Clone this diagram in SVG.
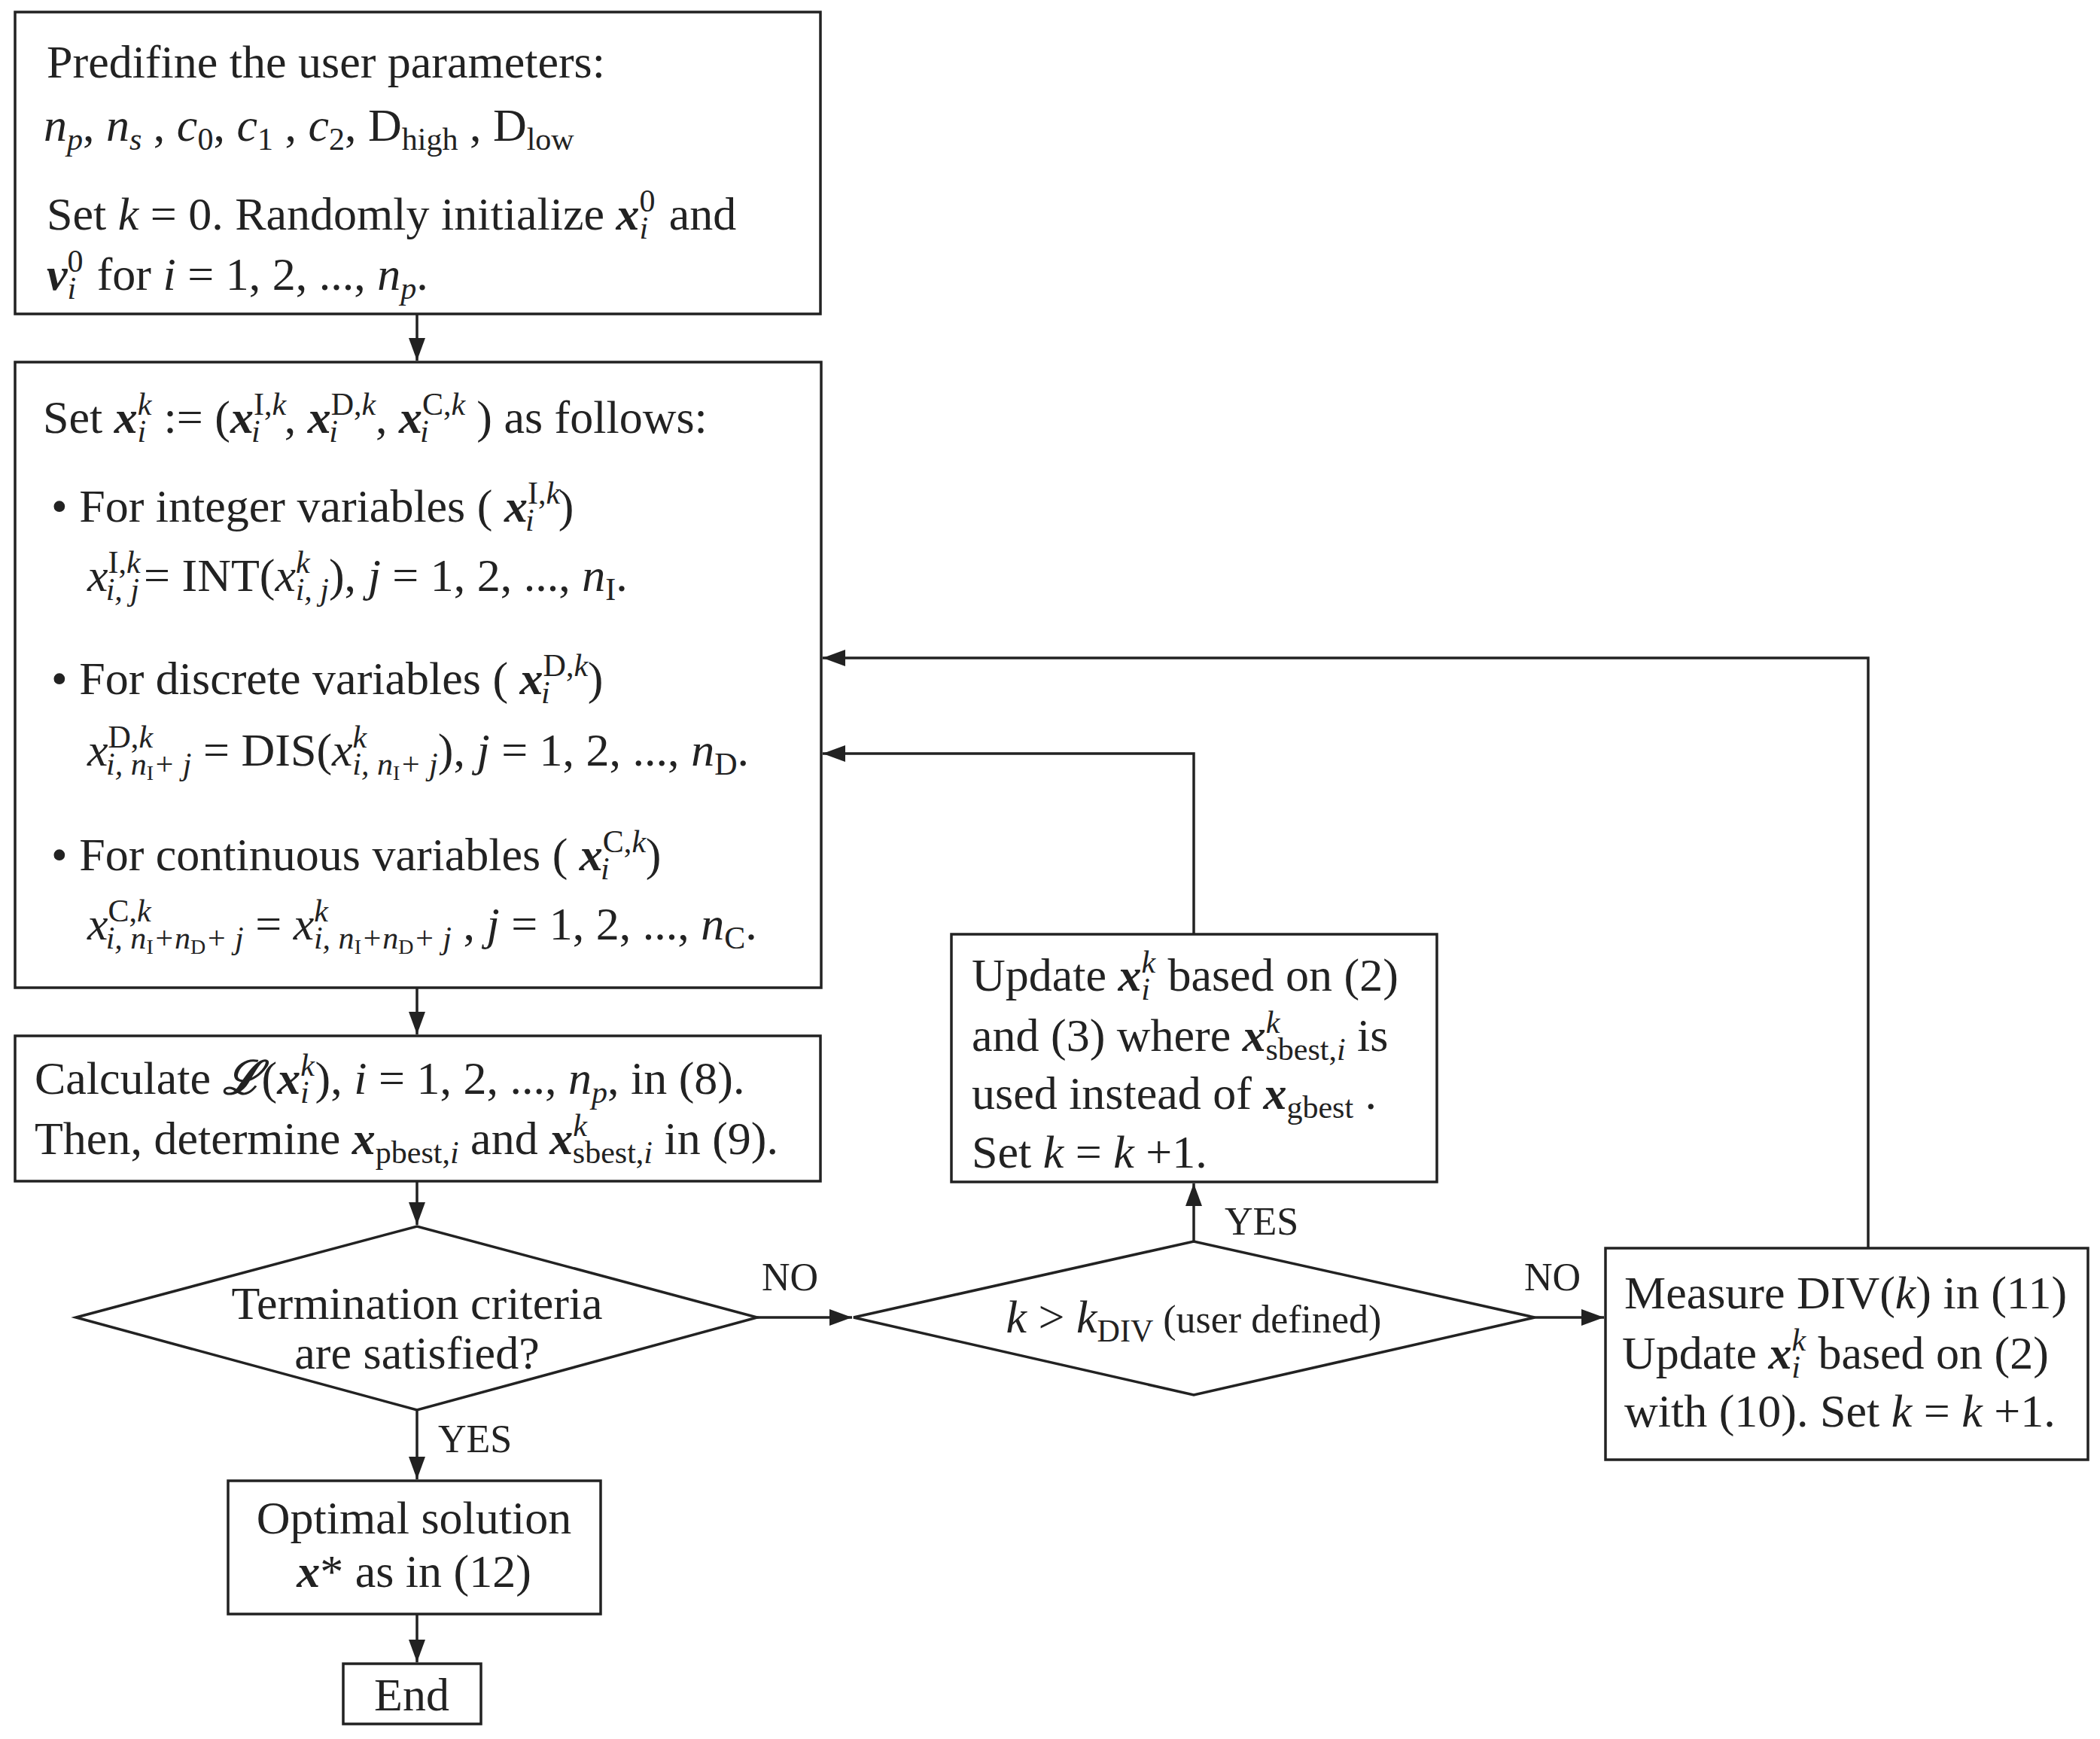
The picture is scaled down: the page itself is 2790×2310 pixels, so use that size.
<svg xmlns="http://www.w3.org/2000/svg" width="2790" height="2310" viewBox="0 0 2790 2310">
<style>
text{font-family:"Liberation Serif","Times New Roman",serif;font-size:62px;fill:#222}
.box{fill:#fff;stroke:#222;stroke-width:3.5}
.c{fill:none;stroke:#222;stroke-width:3.5}
.i{font-style:italic}
.bi{font-style:italic;font-weight:bold}
.s{font-size:42px}
.t{font-size:28px;font-style:normal}
.lbl{font-size:52px}
</style>
<defs>
<marker id="a" markerUnits="userSpaceOnUse" markerWidth="32" markerHeight="24" refX="30" refY="11" orient="auto"><path d="M0,0 L30,11 L0,22 z" fill="#222"/></marker>
</defs>
<rect width="2790" height="2310" fill="#fff"/>
<g id="connectors">
<path class="c" d="M554 417 V479" marker-end="url(#a)"/>
<path class="c" d="M554 1312 V1374" marker-end="url(#a)"/>
<path class="c" d="M554 1569 V1627" marker-end="url(#a)"/>
<path class="c" d="M1006 1750 H1132" marker-end="url(#a)"/>
<path class="c" d="M554 1873 V1965" marker-end="url(#a)"/>
<path class="c" d="M554 2144 V2208" marker-end="url(#a)"/>
<path class="c" d="M1586 1649 V1572" marker-end="url(#a)"/>
<path class="c" d="M2039 1750 H2131" marker-end="url(#a)"/>
<path class="c" d="M1586 1241 V1001 H1093" marker-end="url(#a)"/>
<path class="c" d="M2482 1658 V874 H1093" marker-end="url(#a)"/>
<text class="lbl" x="1012" y="1714">NO</text>
<text class="lbl" x="2025" y="1714">NO</text>
<text class="lbl" x="1627" y="1640">YES</text>
<text class="lbl" x="582" y="1929">YES</text>
</g>
<g id="n1">
<rect class="box" x="20" y="16" width="1070" height="401"/>
<text x="62" y="103">Predifine the user parameters:</text>
<text x="58" y="187"><tspan class="i">n</tspan><tspan class="s i" dy="12">p</tspan><tspan dy="-12">, </tspan><tspan class="i">n</tspan><tspan class="s i" dy="12">s</tspan><tspan dy="-12"> , </tspan><tspan class="i">c</tspan><tspan class="s" dy="12">0</tspan><tspan dy="-12">, </tspan><tspan class="i">c</tspan><tspan class="s" dy="12">1</tspan><tspan dy="-12"> , </tspan><tspan class="i">c</tspan><tspan class="s" dy="12">2</tspan><tspan dy="-12">, D</tspan><tspan class="s" dy="12">high</tspan><tspan dy="-12"> , D</tspan><tspan class="s" dy="12">low</tspan></text>
<text x="62" y="305">Set <tspan class="i">k</tspan> = 0.  Randomly initialize <tspan class="bi">x</tspan><tspan class="s" dy="-24">0</tspan><tspan class="s i" dx="-21" dy="36">i</tspan><tspan dx="12" dy="-12"> and</tspan></text>
<text x="62" y="385"><tspan class="bi">v</tspan><tspan class="s" dy="-24">0</tspan><tspan class="s i" dx="-21" dy="36">i</tspan><tspan dx="12" dy="-12"> for </tspan><tspan class="i">i</tspan> = 1, 2, ..., <tspan class="i">n</tspan><tspan class="s i" dy="12">p</tspan><tspan dy="-12">.</tspan></text>
</g>
<g id="n2">
<rect class="box" x="20" y="481" width="1071" height="831"/>
<text x="57" y="575">Set <tspan class="bi">x</tspan><tspan class="s i" dy="-24">k</tspan><tspan class="s i" dx="-19" dy="36">i</tspan><tspan dx="8" dy="-12"> := (</tspan><tspan class="bi">x</tspan><tspan class="s" dy="-24">I,<tspan class="i">k</tspan></tspan><tspan class="s i" dx="-46" dy="36">i</tspan><tspan dx="32" dy="-12">, </tspan><tspan class="bi">x</tspan><tspan class="s" dy="-24">D,<tspan class="i">k</tspan></tspan><tspan class="s i" dx="-62" dy="36">i</tspan><tspan dx="50" dy="-12">, </tspan><tspan class="bi">x</tspan><tspan class="s" dy="-24">C,<tspan class="i">k</tspan></tspan><tspan class="s i" dx="-60" dy="36">i</tspan><tspan dx="48" dy="-12"> ) as follows:</tspan></text>
<text x="68" y="693">• For integer variables ( <tspan class="bi">x</tspan><tspan class="s" dy="-24">I,<tspan class="i">k</tspan></tspan><tspan class="s i" dx="-46" dy="36">i</tspan><tspan dx="32" dy="-12">)</tspan></text>
<text x="116" y="785"><tspan class="i">x</tspan><tspan class="s" dy="-24">I,<tspan class="i">k</tspan></tspan><tspan class="s i" dx="-46" dy="36">i, j</tspan><tspan dx="6" dy="-12">= INT(</tspan><tspan class="i">x</tspan><tspan class="s i" dy="-24">k</tspan><tspan class="s i" dx="-19" dy="36">i, j</tspan><tspan dy="-12">),  </tspan><tspan class="i">j</tspan> = 1, 2, ..., <tspan class="i">n</tspan><tspan class="s" dy="12">I</tspan><tspan dy="-12">.</tspan></text>
<text x="68" y="922">• For discrete variables ( <tspan class="bi">x</tspan><tspan class="s" dy="-24">D,<tspan class="i">k</tspan></tspan><tspan class="s i" dx="-62" dy="36">i</tspan><tspan dx="50" dy="-12">)</tspan></text>
<text x="116" y="1017"><tspan class="i">x</tspan><tspan class="s" dy="-24">D,<tspan class="i">k</tspan></tspan><tspan class="s i" dx="-62" dy="36">i, n<tspan class="t" dy="7">I</tspan><tspan dy="-7">+ j</tspan></tspan><tspan dy="-12"> = DIS(</tspan><tspan class="i">x</tspan><tspan class="s i" dy="-24">k</tspan><tspan class="s i" dx="-19" dy="36">i, n<tspan class="t" dy="7">I</tspan><tspan dy="-7">+ j</tspan></tspan><tspan dy="-12">),  </tspan><tspan class="i">j</tspan> = 1, 2, ..., <tspan class="i">n</tspan><tspan class="s" dy="12">D</tspan><tspan dy="-12">.</tspan></text>
<text x="68" y="1156">• For continuous variables ( <tspan class="bi">x</tspan><tspan class="s" dy="-24">C,<tspan class="i">k</tspan></tspan><tspan class="s i" dx="-60" dy="36">i</tspan><tspan dx="48" dy="-12">)</tspan></text>
<text x="116" y="1248"><tspan class="i">x</tspan><tspan class="s" dy="-24">C,<tspan class="i">k</tspan></tspan><tspan class="s i" dx="-60" dy="36">i, n<tspan class="t" dy="7">I</tspan><tspan dy="-7">+n</tspan><tspan class="t" dy="7">D</tspan><tspan dy="-7">+ j</tspan></tspan><tspan dy="-12"> = </tspan><tspan class="i">x</tspan><tspan class="s i" dy="-24">k</tspan><tspan class="s i" dx="-19" dy="36">i, n<tspan class="t" dy="7">I</tspan><tspan dy="-7">+n</tspan><tspan class="t" dy="7">D</tspan><tspan dy="-7">+ j</tspan></tspan><tspan dy="-12"> ,  </tspan><tspan class="i">j</tspan> = 1, 2, ..., <tspan class="i">n</tspan><tspan class="s" dy="12">C</tspan><tspan dy="-12">.</tspan></text>
</g>
<g id="n3">
<rect class="box" x="20" y="1376" width="1070" height="193"/>
<text x="46" y="1453">Calculate <tspan class="bi">ℒ</tspan>(<tspan class="bi">x</tspan><tspan class="s i" dy="-24">k</tspan><tspan class="s i" dx="-19" dy="36">i</tspan><tspan dx="8" dy="-12">), </tspan><tspan class="i">i</tspan> = 1, 2, ..., <tspan class="i">n</tspan><tspan class="s i" dy="12">p</tspan><tspan dy="-12">, in (8).</tspan></text>
<text x="46" y="1533">Then, determine <tspan class="bi">x</tspan><tspan class="s" dy="12">pbest,<tspan class="i">i</tspan></tspan><tspan dy="-12">  and </tspan><tspan class="bi">x</tspan><tspan class="s i" dy="-24">k</tspan><tspan class="s" dx="-19" dy="36">sbest,<tspan class="i">i</tspan></tspan><tspan dy="-12"> in (9).</tspan></text>
</g>
<g id="d1">
<polygon class="box" points="101,1750 554,1629 1006,1750 554,1873"/>
<text x="554" y="1752" text-anchor="middle" font-size="56">Termination criteria</text>
<text x="554" y="1818" text-anchor="middle" font-size="56">are satisfied?</text>
</g>
<g id="opt">
<rect class="box" x="303" y="1967" width="495" height="177"/>
<text x="550" y="2037" text-anchor="middle">Optimal solution</text>
<text x="550" y="2108" text-anchor="middle"><tspan class="bi">x</tspan>* as in (12)</text>
</g>
<g id="end">
<rect class="box" x="456" y="2210" width="183" height="80"/>
<text x="547" y="2272" text-anchor="middle">End</text>
</g>
<g id="d2">
<polygon class="box" points="1134,1750 1586,1649 2039,1750 1586,1853"/>
<text x="1586" y="1770" text-anchor="middle"><tspan class="i">k</tspan> &gt; <tspan class="i">k</tspan><tspan class="s" dy="12">DIV</tspan><tspan font-size="52" dy="-12"> (user defined)</tspan></text>
</g>
<g id="upd">
<rect class="box" x="1264" y="1241" width="645" height="329"/>
<text x="1291" y="1316">Update <tspan class="bi">x</tspan><tspan class="s i" dy="-24">k</tspan><tspan class="s i" dx="-19" dy="36">i</tspan><tspan dx="8" dy="-12"> based on (2)</tspan></text>
<text x="1291" y="1396">and (3) where <tspan class="bi">x</tspan><tspan class="s i" dy="-24">k</tspan><tspan class="s" dx="-19" dy="36">sbest,<tspan class="i">i</tspan></tspan><tspan dy="-12"> is</tspan></text>
<text x="1291" y="1473">used instead of <tspan class="bi">x</tspan><tspan class="s" dy="12">gbest</tspan><tspan dy="-12"> .</tspan></text>
<text x="1291" y="1551">Set <tspan class="i">k</tspan> = <tspan class="i">k</tspan> +1.</text>
</g>
<g id="meas">
<rect class="box" x="2133" y="1658" width="641" height="281"/>
<text x="2158" y="1738">Measure DIV(<tspan class="i">k</tspan>) in (11)</text>
<text x="2155" y="1818">Update <tspan class="bi">x</tspan><tspan class="s i" dy="-24">k</tspan><tspan class="s i" dx="-19" dy="36">i</tspan><tspan dx="8" dy="-12"> based on (2)</tspan></text>
<text x="2158" y="1895">with (10). Set <tspan class="i">k</tspan> = <tspan class="i">k</tspan> +1.</text>
</g>
</svg>
